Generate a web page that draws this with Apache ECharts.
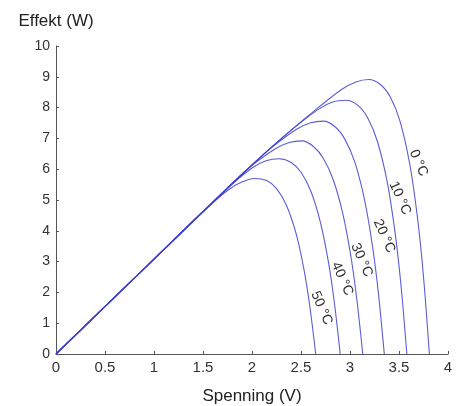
<!DOCTYPE html>
<html>
<head>
<meta charset="utf-8">
<script src="https://cdn.jsdelivr.net/npm/echarts@6/dist/echarts.min.js"></script>
<style>html,body{margin:0;padding:0;background:#fff}#c{width:456px;height:406px}</style>
</head>
<body>
<div id="c"></div>
<script>
// Spenning (V), Effekt (W) for each temperature
const temps = ['0 °C', '10 °C', '20 °C', '30 °C', '40 °C', '50 °C'];
const curve0 = [[0,0],[1,3.08],[2,6.13],[2.3,7.0],[2.61,7.83],[2.91,8.58],[3.06,8.83],[3.19,8.91],[3.31,8.75],[3.41,8.35],[3.51,7.56],[3.61,6.16],[3.69,4.39],[3.75,2.51],[3.81,0]];
const curve10 = [[0,0],[1,3.08],[2,6.14],[2.38,7.21],[2.68,7.95],[2.83,8.19],[2.96,8.24],[3.08,8.07],[3.18,7.67],[3.28,6.90],[3.38,5.58],[3.46,3.94],[3.52,2.24],[3.58,0]];
const curve20 = [[0,0],[1,3.08],[1.8,5.54],[2.15,6.57],[2.45,7.29],[2.60,7.51],[2.73,7.56],[2.85,7.37],[2.95,6.96],[3.05,6.22],[3.15,4.98],[3.23,3.49],[3.29,1.97],[3.35,0]];
const curve30 = [[0,0],[1,3.08],[1.5,4.62],[1.93,5.94],[2.23,6.65],[2.38,6.87],[2.51,6.92],[2.63,6.73],[2.73,6.34],[2.83,5.65],[2.93,4.51],[3.01,3.15],[3.07,1.77],[3.13,0]];
const curve40 = [[0,0],[1,3.08],[1.70,5.24],[2.00,6.04],[2.15,6.28],[2.28,6.34],[2.40,6.22],[2.50,5.90],[2.60,5.29],[2.70,4.25],[2.78,2.98],[2.84,1.68],[2.90,0]];
const curve50 = [[0,0],[1,3.08],[1.45,4.48],[1.75,5.31],[1.90,5.59],[2.03,5.70],[2.15,5.63],[2.25,5.37],[2.35,4.84],[2.45,3.91],[2.53,2.75],[2.59,1.55],[2.65,0]];
const curves = [curve0, curve10, curve20, curve30, curve40, curve50];
// where each temperature label sits (V, W)
const labelAt = [[3.70,6.2],[3.51,5.06],[3.35,3.83],[3.12,3.05],[2.92,2.44],[2.71,1.49]];
const xTicks = [0, 0.5, 1, 1.5, 2, 2.5, 3, 3.5, 4];
const yTicks = [0,1,2,3,4,5,6,7,8,9,10];

const FONT = 'Liberation Sans, Arial, sans-serif';
const chart = echarts.init(document.getElementById('c'), null, {renderer: 'canvas'});
chart.setOption({
  animation: false,
  backgroundColor: '#fff',
  grid: {left: 56, right: 8, top: 46, bottom: 52, containLabel: false, outerBoundsMode: 'none'},
  xAxis: {
    type: 'value', min: xTicks[0], max: xTicks[xTicks.length-1], interval: 0.5,
    name: 'Spenning (V)', nameLocation: 'middle', nameGap: 34,
    nameTextStyle: {color: '#222', fontSize: 17, fontFamily: FONT},
    axisLine: {lineStyle: {color: '#555', width: 1}},
    axisTick: {inside: true, length: 3, lineStyle: {color: '#555'}},
    axisLabel: {margin: 6, color: '#333', fontSize: 15, fontFamily: FONT},
    splitLine: {show: false}
  },
  yAxis: {
    type: 'value', min: yTicks[0], max: yTicks[yTicks.length-1], interval: 1,
    name: 'Effekt (W)', nameLocation: 'end', nameGap: 16,
    nameTextStyle: {color: '#222', fontSize: 17, fontFamily: FONT, align: 'center'},
    axisLine: {show: true, lineStyle: {color: '#555', width: 1}},
    axisTick: {show: true, inside: true, length: 3, lineStyle: {color: '#555'}},
    axisLabel: {margin: 6, color: '#333', fontSize: 14, fontFamily: FONT},
    splitLine: {show: false}
  },
  series: curves.map((d, i) => ({
    type: 'line', name: temps[i], data: d, smooth: 0.3, symbol: 'none',
    lineStyle: {color: '#3f3fd0', width: 1.1, opacity: 0.85},
    markPoint: {
      symbol: 'circle', symbolSize: 0, silent: true,
      data: [{coord: labelAt[i], value: temps[i]}],
      label: {show: true, position: 'inside', formatter: temps[i], rotate: -66,
        color: '#333', fontSize: 14, fontFamily: FONT}
    }
  }))
});
</script>
</body>
</html>
